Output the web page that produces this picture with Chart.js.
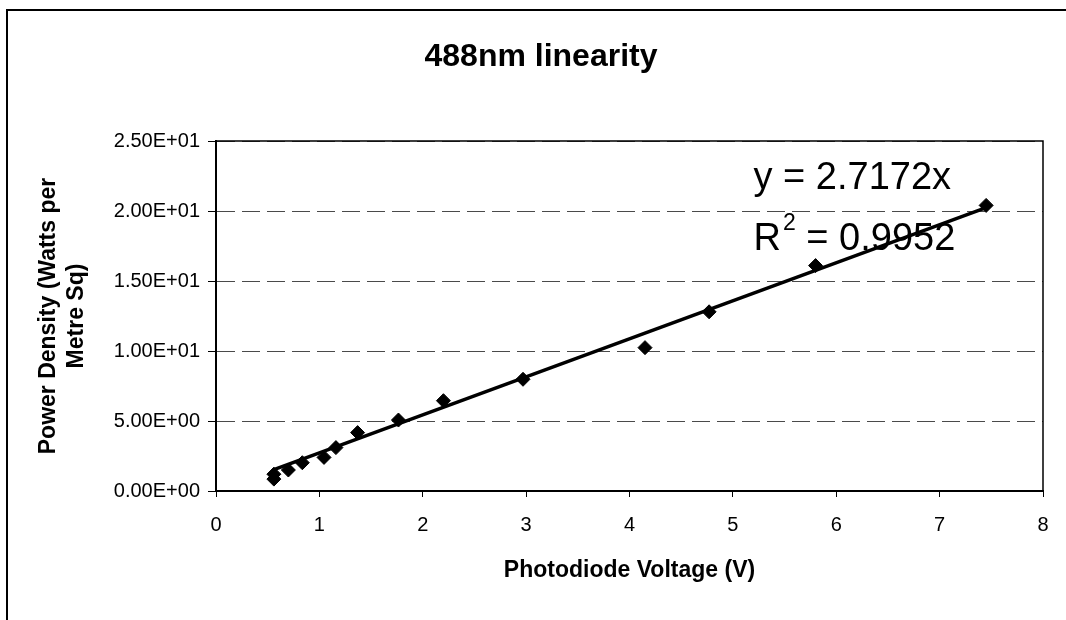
<!DOCTYPE html>
<html>
<head>
<meta charset="utf-8">
<script src="https://cdn.jsdelivr.net/npm/chart.js@4.4.1/dist/chart.umd.min.js"></script>
<style>
  html, body { margin: 0; padding: 0; background: #fff; }
  #wrap { width: 1066px; height: 620px; position: relative; }
</style>
</head>
<body>
<div id="wrap"><canvas id="c" width="1066" height="620"></canvas></div>
<script>
// ---- data ----
const voltage = [0.56, 0.56, 0.70, 0.835, 1.045, 1.16, 1.37, 1.765, 2.20, 2.97, 4.15, 4.77, 5.80, 7.45];
const powerDensity = [0.85, 1.20, 1.50, 2.02, 2.40, 3.10, 4.17, 5.07, 6.45, 7.98, 10.24, 12.80, 16.10, 20.40];
const trendSlope = 2.7172;
const rSquared = '0.9952';
const titleText = '488nm linearity';
const xTitle = 'Photodiode Voltage (V)';
const yTitle = ['Power Density (Watts per', 'Metre Sq)'];

const points = voltage.map((x, i) => ({ x: x, y: powerDensity[i] }));
const xMin = Math.min(...voltage), xMax = Math.max(...voltage);
const trend = [{ x: xMin, y: trendSlope * xMin }, { x: xMax, y: trendSlope * xMax }];

function sci(v) {
  if (v === 0) return '0.00E+00';
  const e = Math.floor(Math.log10(Math.abs(v)));
  const m = v / Math.pow(10, e);
  const sign = e < 0 ? '-' : '+';
  return m.toFixed(2) + 'E' + sign + String(Math.abs(e)).padStart(2, '0');
}

const FONT = "'Liberation Sans', Arial, sans-serif";

const decor = {
  id: 'decor',
  beforeDraw(chart) {
    const ctx = chart.ctx;
    ctx.save();
    ctx.fillStyle = '#fff';
    ctx.fillRect(0, 0, chart.width, chart.height);
    // outer chart border (top and left visible)
    ctx.strokeStyle = '#000';
    ctx.lineWidth = 2;
    ctx.beginPath();
    ctx.moveTo(7, chart.height);
    ctx.lineTo(7, 10);
    ctx.lineTo(chart.width, 10);
    ctx.stroke();
    ctx.restore();
  },
  afterDatasetsDraw(chart) {
    const ctx = chart.ctx;
    const a = chart.chartArea;
    const xs = chart.scales.x, ys = chart.scales.y;
    ctx.save();
    // plot-area top & right border
    ctx.strokeStyle = '#000';
    ctx.lineWidth = 1.5;
    ctx.beginPath();
    ctx.moveTo(a.left, a.top);
    ctx.lineTo(a.right, a.top);
    ctx.lineTo(a.right, a.bottom);
    ctx.stroke();
    // chart title
    ctx.fillStyle = '#000';
    ctx.font = 'bold 32px ' + FONT;
    ctx.textAlign = 'center';
    ctx.textBaseline = 'alphabetic';
    ctx.fillText(titleText, 541, 66);
    // trendline equation
    const lx = xs.getPixelForValue(5.2);
    ctx.textAlign = 'left';
    ctx.font = '38px ' + FONT;
    ctx.fillText('y = ' + trendSlope + 'x', lx, ys.getPixelForValue(21.6));
    const by = ys.getPixelForValue(17.2);
    ctx.fillText('R', lx, by);
    const rw = ctx.measureText('R').width;
    ctx.font = '23px ' + FONT;
    ctx.fillText('2', lx + rw + 2, by - 20);
    const sw = ctx.measureText('2').width;
    ctx.font = '38px ' + FONT;
    ctx.fillText(' = ' + rSquared, lx + rw + 2 + sw, by);
    ctx.restore();
  }
};

new Chart(document.getElementById('c'), {
  type: 'scatter',
  data: {
    datasets: [
      {
        label: 'Trend',
        type: 'line',
        data: trend,
        borderColor: '#000',
        borderWidth: 3.5,
        pointRadius: 0,
        fill: false,
        order: 2
      },
      {
        label: 'Power density',
        data: points,
        pointStyle: 'rectRot',
        pointRadius: 7,
        backgroundColor: '#000',
        borderColor: '#000',
        borderWidth: 1,
        order: 1
      }
    ]
  },
  options: {
    responsive: false,
    animation: false,
    devicePixelRatio: 1,
    layout: { padding: { left: 22, right: 23, top: 141, bottom: 20 } },
    plugins: {
      legend: { display: false },
      title: { display: false },
      tooltip: { enabled: false }
    },
    scales: {
      x: {
        type: 'linear',
        min: 0,
        max: 8,
        afterFit(s) { s.height = 109; },
        border: { display: true, color: '#000', width: 2 },
        grid: { drawOnChartArea: false, drawTicks: true, tickLength: 6, tickColor: '#000' },
        ticks: {
          stepSize: 1,
          padding: 16,
          color: '#000',
          font: { family: FONT, size: 20 }
        },
        title: {
          display: true,
          text: xTitle,
          color: '#000',
          font: { family: FONT, size: 23, weight: 'bold' },
          padding: { top: 0, bottom: 16 }
        }
      },
      y: {
        type: 'linear',
        min: 0,
        max: 25,
        afterFit(s) { s.width = 216 - 22; },
        border: { display: true, color: '#000', width: 2, dash: [18, 7] },
        grid: {
          color: '#4a4a4a',
          lineWidth: 1,
          tickLength: 8,
          tickColor: '#000',
          tickBorderDash: []
        },
        ticks: {
          stepSize: 5,
          padding: 8,
          color: '#000',
          font: { family: FONT, size: 20 },
          callback: (v) => sci(v)
        },
        title: {
          display: true,
          text: yTitle,
          color: '#000',
          font: { family: FONT, size: 23, weight: 'bold', lineHeight: 1.217 },
          padding: { top: 12.5, bottom: 0 }
        }
      }
    }
  },
  plugins: [decor]
});
</script>
</body>
</html>
